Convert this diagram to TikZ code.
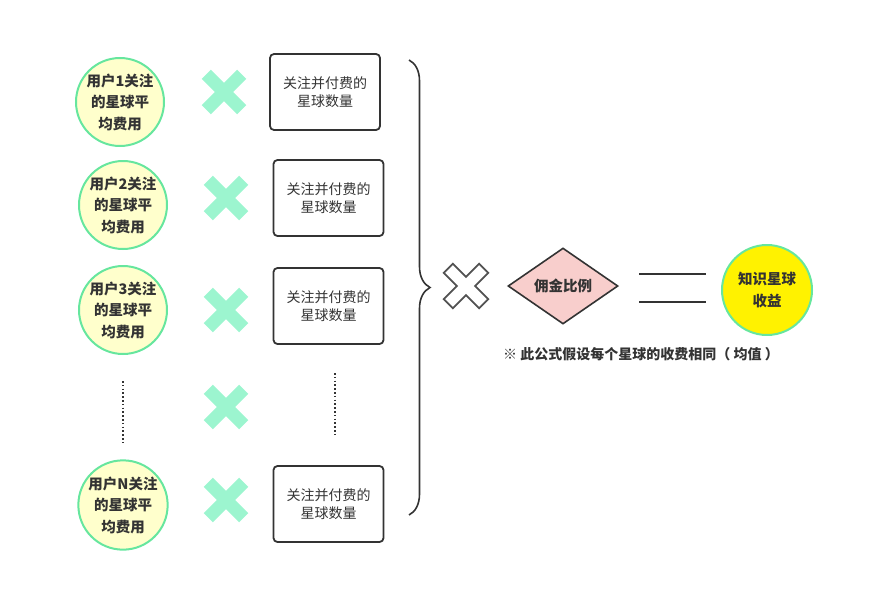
\documentclass[tikz,border=0pt]{standalone}
\usepackage{fontspec}
\setmainfont{Noto Sans CJK SC}
\usetikzlibrary{shapes.geometric,decorations.pathreplacing}
\definecolor{ringgreen}{HTML}{66E69E}
\definecolor{crossgreen}{HTML}{9CF5CF}
\definecolor{paleyellow}{HTML}{FFFFCC}
\definecolor{boxline}{HTML}{333333}
\definecolor{pink}{HTML}{F8CECC}
\definecolor{ink}{HTML}{333333}
\tikzset{
  user/.style={circle,draw=ringgreen,line width=2pt,fill=paleyellow,minimum size=88pt,inner sep=0pt,align=center,font=\fontsize{14.5}{21.5}\selectfont\bfseries,text=ink},
  countbox/.style={draw=boxline,line width=1.8pt,rounded corners=4pt,minimum width=110pt,minimum height=76pt,align=center,font=\fontsize{14}{18.5}\selectfont,text=ink},
  dotline/.style={draw=ink,line width=1.6pt,dash pattern=on 1.6pt off 2.2pt},
}
\newcommand{\greencross}[1]{\fill[crossgreen,shift={#1},rotate=45] (-6.5,-25)--(6.5,-25)--(6.5,-6.5)--(25,-6.5)--(25,6.5)--(6.5,6.5)--(6.5,25)--(-6.5,25)--(-6.5,6.5)--(-25,6.5)--(-25,-6.5)--(-6.5,-6.5)--cycle;}
\begin{document}
\begin{tikzpicture}[x=1pt,y=-1pt]
\useasboundingbox (0,0) rectangle (875,597);
\node[user] (u1) at (120,102) {用户1关注\\的星球平\\均费用};
\node[user] (u2) at (123,205) {用户2关注\\的星球平\\均费用};
\node[user] (u3) at (123,310) {用户3关注\\的星球平\\均费用};
\node[user] (un) at (123,505) {用户N关注\\的星球平\\均费用};
\node[countbox] (b1) at (325,92) {关注并付费的\\星球数量};
\node[countbox] (b2) at (328.5,198) {关注并付费的\\星球数量};
\node[countbox] (b3) at (328.5,306) {关注并付费的\\星球数量};
\node[countbox] (bn) at (328.5,504) {关注并付费的\\星球数量};
\greencross{(224,92)}
\greencross{(226,198)}
\greencross{(226,310)}
\greencross{(226,407)}
\greencross{(226,500)}
\coordinate (d1a) at (123,381); \coordinate (d1b) at (123,443);
\coordinate (d2a) at (335,373); \coordinate (d2b) at (335,436);
\draw[dotline] (d1a) -- (d1b);
\draw[dotline] (d2a) -- (d2b);
\coordinate (bt) at (409,60); \coordinate (bb) at (409,515);
\draw[ink,line width=1.6pt,decorate,decoration={brace,amplitude=21pt,aspect=0.5}] (bt) -- (bb);
\draw[ink!85,line width=1.8pt,fill=white,shift={(466,286)},rotate=45] (-6.5,-25)--(6.5,-25)--(6.5,-6.5)--(25,-6.5)--(25,6.5)--(6.5,6.5)--(6.5,25)--(-6.5,25)--(-6.5,6.5)--(-25,6.5)--(-25,-6.5)--(-6.5,-6.5)--cycle;
\node[diamond,draw=ink,line width=1.6pt,fill=pink,minimum width=110pt,minimum height=76pt,inner sep=0pt,aspect=1.45,font=\fontsize{14.5}{18}\selectfont\bfseries,text=ink] (ratio) at (563,286) {佣金比例};
\coordinate (e1a) at (639,274); \coordinate (e1b) at (706,274);
\coordinate (e2a) at (639,302); \coordinate (e2b) at (706,302);
\draw[ink,line width=1.6pt] (e1a) -- (e1b);
\draw[ink,line width=1.6pt] (e2a) -- (e2b);
\node[user,fill=yellow,minimum size=90pt] (inc) at (767,290) {知识星球\\收益};
\node[font=\fontsize{14}{16}\selectfont\bfseries,text=ink] (note) at (641,354) {※ 此公式假设每个星球的收费相同（ 均值 ）};
\end{tikzpicture}
\end{document}
